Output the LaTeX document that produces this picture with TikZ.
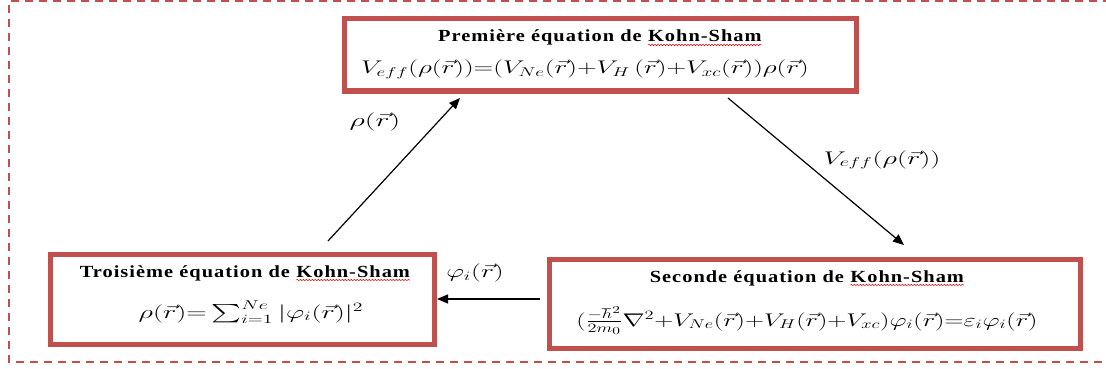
\RequirePackage{fix-cm}
\documentclass[tikz,border=0pt]{standalone}
\usepackage{amsmath}
\usepackage{fontspec}
\usepackage{graphicx}
\setmainfont{Liberation Serif}
\newfontfamily\kstitlefont{Liberation Serif}[LetterSpace=6,FakeStretch=1.2]
\usetikzlibrary{decorations.pathmorphing,arrows.meta}
\definecolor{boxred}{HTML}{C0504D}
\newcommand{\spellwave}[1]{\tikz[baseline=(sw.base),x=1pt,y=1pt]{\node[inner sep=0pt,outer sep=0pt](sw){#1};\draw[red!90!black,line width=0.5pt,decorate,decoration={snake,amplitude=0.7pt,segment length=3pt}]([yshift=-3pt]sw.base west)--([yshift=-3pt]sw.base east);}}
\newcommand{\wm}[2][1.5]{\scalebox{#1}[1.06]{$#2$}}
\tikzset{
  ksbox/.style={draw=boxred,line width=5pt,rectangle,inner sep=0pt},
  kstitle/.style={anchor=base,inner sep=0pt,font=\fontsize{17}{20}\kstitlefont\bfseries},
  kseq/.style={anchor=base,inner sep=0pt,font=\fontsize{17.28}{21}\selectfont},
  kslabel/.style={inner sep=0pt,font=\fontsize{17.28}{21}\selectfont},
  frame/.style={draw=boxred,line width=1.8pt,dash pattern=on 8pt off 6pt},
  arr/.style={draw=black,line width=1.2pt,-{Triangle[length=11pt,width=9pt]}}
}
\begin{document}
\begin{tikzpicture}[x=1pt,y=-1pt]
\useasboundingbox (0,0) rectangle (1106,369);
\draw[frame] (1125,1) -- (9,1) -- (9,362) -- (1125,362);
% boxes
\node[ksbox,minimum width=512pt,minimum height=72pt] (top) at (600,55) {};
\node[ksbox,minimum width=384pt,minimum height=90pt] (left) at (242.5,299.5) {};
\node[ksbox,minimum width=531pt,minimum height=89pt] (right) at (815,304) {};
% texts
\node[kstitle] (t1) at (600,42) {Première équation de \spellwave{Kohn-Sham}};
\node[kseq] (e1) at (585,74) {\wm[1.58]{V_{eff}(\rho(\vec{r})){=}(V_{Ne}(\vec{r}){+}V_H\,(\vec{r}){+}V_{xc}(\vec{r}))\rho(\vec{r})}};
\node[kstitle] (t3) at (245,277) {Troisième équation de \spellwave{Kohn-Sham}};
\node[kseq] (e3) at (251,318) {\wm[1.64]{\rho(\vec{r}){=}\sum\nolimits_{i=1}^{Ne}|\varphi_i(\vec{r})|^2}};
\node[kstitle] (t2) at (807,282) {Seconde équation de \spellwave{Kohn-Sham}};
\node[kseq] (e2) at (807,326) {\wm[1.53]{(\frac{-\hbar^2}{2m_0}\nabla^2{+}V_{Ne}(\vec{r}){+}V_H(\vec{r}){+}V_{xc})\varphi_i(\vec{r}){=}\varepsilon_i\varphi_i(\vec{r})}};
% connectors
\coordinate (upS) at (328,241);
\coordinate (upE) at (460,98);
\coordinate (dnS) at (728,98);
\coordinate (dnE) at (904,245);
\coordinate (hS) at (540,299);
\draw[arr] (upS) -- (upE);
\draw[arr] (dnS) -- (dnE);
\draw[arr] (hS) -- (left.east |- hS);
% labels
\node[kslabel] (l1) at (375,122) {\wm[1.74]{\rho(\vec{r})}};
\node[kslabel] (l2) at (882,160) {\wm[1.64]{V_{eff}(\rho(\vec{r}))}};
\node[kslabel] (l3) at (475,273) {\wm[1.6]{\varphi_i(\vec{r})}};
\end{tikzpicture}
\end{document}
